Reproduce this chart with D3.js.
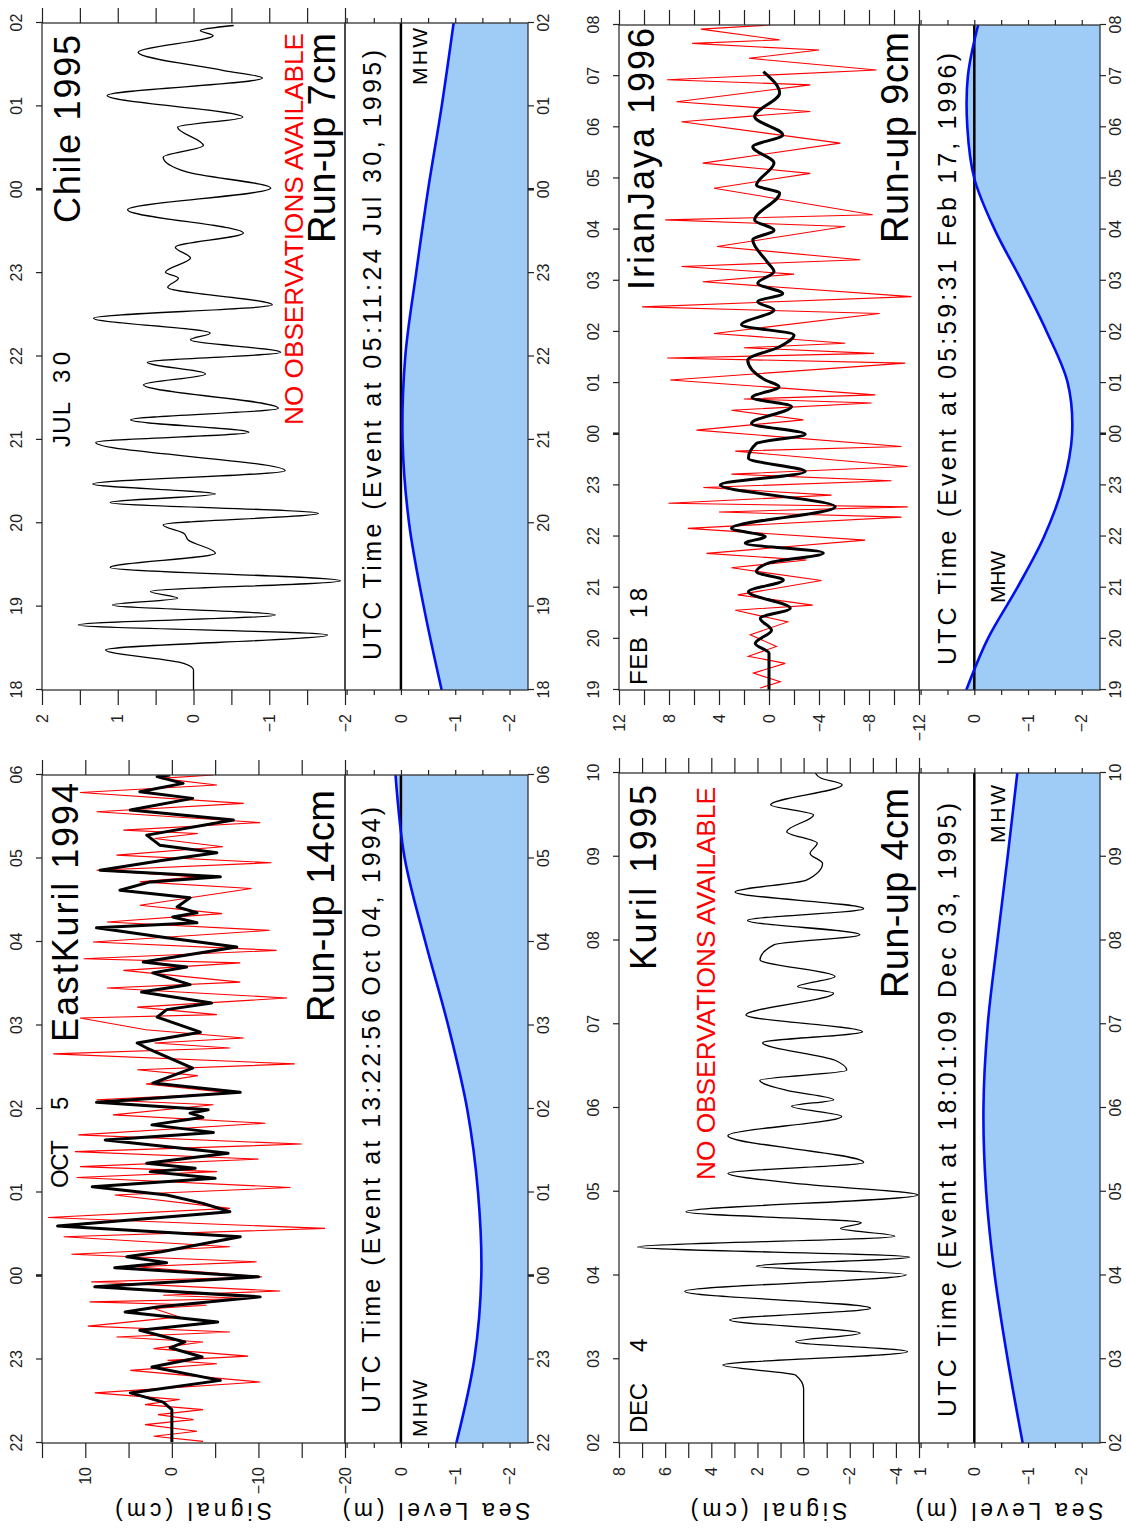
<!DOCTYPE html>
<html><head><meta charset="utf-8">
<script src="https://cdn.jsdelivr.net/npm/d3@7"></script>
<style>
body{margin:0;background:#fff}
svg{display:block}
text{font-family:"Liberation Sans",Arial,Helvetica,sans-serif}
</style>
</head><body>
<svg id="c" width="1126" height="1529"></svg>
<script>
// ---------------- DATA ----------------
// hour tick labels per panel
const eastKurilHours = ["22","23","00","01","02","03","04","05","06"];
const chileHours     = ["18","19","20","21","22","23","00","01","02"];
const kurilHours     = ["02","03","04","05","06","07","08","09","10"];
const irianHours     = ["19","20","21","22","23","00","01","02","03","04","05","06","07","08"];

// signal axis ticks and labelled values
const eastKurilTicks = [15,10,5,0,-5,-10,-15,-20];
const eastKurilLabels = [10,0,-10,-20];
const chileTicks = [2,1.5,1,0.5,0,-0.5,-1,-1.5,-2];
const chileLabels = [2,1,0,-1,-2];
const kurilTicks = [8,7,6,5,4,3,2,1,0,-1,-2,-3,-4,-5];
const kurilLabels = [8,6,4,2,0,-2,-4];
const irianTicks = [12,10,8,6,4,2,0,-2,-4,-6,-8,-10,-12];
const irianLabels = [12,8,4,0,-4,-8,-12];
const seaTicks = [1,0.5,0,-0.5,-1,-1.5,-2];
const seaLabelsDefault = [0,-1,-2];
const seaLabelsKuril = [1,0,-1,-2];

// Chile 1995 model signal (hours after 18:00, cm)
const chileTime = [0,0.24,0.32,0.48,0.66,0.78,0.90,1.02,1.10,1.18,1.31,1.47,1.64,1.80,1.88,1.98,2.12,2.25,2.35,2.47,2.63,2.97,3.09,3.24,3.38,3.66,3.79,3.93,4.05,4.20,4.28,4.46,4.62,4.83,4.94,5.01,5.18,5.31,5.48,5.76,6.02,6.21,6.39,6.53,6.75,6.87,7.13,7.34,7.43,7.65,7.85,7.91,7.97];
const chileSignal = [0,0,0.13,1.16,-1.77,1.52,-1.08,1.07,0.21,0.57,-1.94,1.10,-0.29,0.07,0.13,0.40,-1.65,1.10,-0.29,1.33,-1.21,1.29,-0.73,0.83,-1.12,0.66,-0.16,0.61,-1.15,0.04,-0.22,1.32,-1.04,0.34,0.20,0.37,0.04,0.24,-0.66,0.87,-1.02,0.08,0.40,-0.13,0.21,-0.65,1.14,-0.91,-0.40,0.73,-0.26,-0.09,-0.53];
const chileTide = [-0.75,-0.42,-0.15,-0.03,-0.08,-0.28,-0.50,-0.75,-0.97];

// EastKuril 1994 (hours after 22:00, cm)
const eastKurilTime = [0.01,0.40,0.49,0.60,0.75,0.91,1.03,1.14,1.21,1.35,1.45,1.57,1.63,1.75,1.87,1.99,2.10,2.16,2.23,2.29,2.47,2.60,2.77,2.87,2.97,3.07,3.17,3.25,3.29,3.35,3.47,3.63,3.72,3.81,3.90,3.95,3.99,4.08,4.20,4.31,4.49,4.73,4.79,4.92,5.10,5.19,5.27,5.40,5.49,5.63,5.70,5.76,5.94,6.05,6.17,6.23,6.30,6.35,6.42,6.53,6.62,6.72,6.78,6.86,6.98,7.07,7.16,7.28,7.46,7.58,7.72,7.80,7.90,7.98,8.00];
const eastKurilModel = [0,0,1.0,4.8,-5.6,2.3,-3.5,0.2,-1.5,3.7,-5.3,5.4,1.7,-10.2,8.9,-10.0,6.6,0.6,5.2,1.2,-7.9,13.2,-6.7,-3.6,0.6,9.2,-5.0,2.5,-2.7,2.9,-6.5,7.7,-4.8,2.3,-3.6,-2.1,-4.2,8.7,-7.9,2.2,-2.4,2.9,4.0,-3.3,1.7,0.6,-4.6,3.5,-2.1,2.2,-1.7,3.3,-7.5,0.6,8.7,-2.9,-0.1,-2.9,-0.6,-2.1,6.0,2.5,-5.6,8.3,1.0,-5.2,1.4,2.9,-7.1,4.8,-2.4,3.7,-1.3,1.7,0.2];
const eastKurilObsTime = [0.02,0.08,0.14,0.22,0.28,0.34,0.40,0.46,0.52,0.60,0.73,0.87,0.95,0.99,1.04,1.13,1.21,1.27,1.33,1.40,1.51,1.61,1.65,1.69,1.73,1.77,1.82,1.93,1.99,2.11,2.17,2.26,2.35,2.47,2.57,2.70,2.81,2.97,3.06,3.18,3.25,3.31,3.40,3.49,3.58,3.69,3.83,3.93,4.05,4.11,4.19,4.30,4.40,4.47,4.54,4.66,4.73,4.79,4.85,4.95,5.09,5.13,5.22,5.33,5.45,5.52,5.66,5.75,5.80,5.90,6.00,6.14,6.24,6.34,6.44,6.64,6.72,6.78,6.86,6.95,7.04,7.14,7.24,7.30,7.34,7.43,7.56,7.66,7.79,7.88,7.96,8.00];
const eastKurilObs = [-3.6,2.1,-2.9,3.1,-2.5,1.6,-3.6,3.1,-0.9,8.9,-10.2,4.8,-5.2,0.5,-8.8,2.1,-3.6,6.4,-6.7,9.7,-0.9,2.1,-4.0,9.5,-9.0,1.0,-12.5,9.3,-10.4,4.1,-9.8,11.6,-6.7,12.5,-17.7,14.3,-6.7,6.6,-13.7,11.0,-5.2,10.6,-10.0,11.2,-15.0,10.8,-10.8,6.8,-4.8,8.7,-7.1,3.0,-3.0,4.0,-14.2,13.7,-6.7,2.0,-8.3,3.0,10.6,-5.2,4.0,-13.3,7.5,-7.9,5.6,-7.9,10.2,-12.1,9.1,-11.3,7.5,-5.8,3.7,-9.2,3.7,-3.0,8.7,-11.5,6.4,-5.9,2.0,-3.0,5.6,-10.2,8.7,-8.3,10.6,-5.2,1.4,-4.8];
const eastKurilTide = [-1.02,-1.35,-1.48,-1.42,-1.22,-0.87,-0.45,-0.07,0.10];

// Kuril 1995 model signal (hours after 02:00, cm)
const kurilTime = [0,0.65,0.81,0.93,1.09,1.21,1.31,1.47,1.61,1.81,2.01,2.11,2.22,2.34,2.47,2.56,2.63,2.76,2.96,3.09,3.22,3.35,3.67,3.90,4.02,4.10,4.21,4.33,4.45,4.57,4.78,4.91,5.11,5.37,5.45,5.57,5.77,5.95,6.07,6.24,6.38,6.58,6.72,6.92,7.04,7.16,7.30,7.50,7.62,7.86,7.94,8.00];
const kurilSignal = [0,0,0.34,3.5,-4.5,0.34,-2.45,3.2,-2.9,5.15,-4.45,2.05,-4.6,7.2,-3.95,-1.6,-2.5,5.1,-4.95,0,3.28,-2.6,3.28,-1.65,0.52,-1.3,0.73,1.9,-1.87,-1.36,1.78,-2.55,2.5,-1.3,0.26,-1.36,1.89,1.27,-2.44,2.43,-2.6,2.97,-0.12,-0.82,-0.28,-0.59,0.73,-0.43,1.43,-1.67,-0.74,-0.5];
const kurilTide = [-0.90,-0.62,-0.38,-0.22,-0.17,-0.25,-0.43,-0.62,-0.80];

// IrianJaya 1996 (hours after 19:00, cm)
const irianTime = [0,0.72,0.91,1.17,1.40,1.60,1.92,2.15,2.31,2.48,2.68,2.87,3.00,3.16,3.58,4.01,4.27,4.53,4.82,5.00,5.21,5.54,5.72,5.93,6.06,6.45,6.71,6.94,7.14,7.43,7.59,7.75,7.95,8.18,8.37,8.80,8.99,9.19,9.71,9.87,10.30,10.62,10.85,11.21,11.67,12.09];
const irianModel = [0,0,1.1,-0.2,0.7,-1.7,1.65,-1.15,1.0,0.05,-4.35,1.9,0.3,3.0,-5.3,3.9,-2.9,1.65,1.0,-2.9,1.4,-1.8,1.35,-0.8,0.3,1.7,-0.85,-2.0,2.2,-0.4,0.9,-1.1,0.9,-0.4,0.15,1.3,-0.4,1.15,-0.85,1.0,-0.4,1.3,-1.1,1.15,-0.85,0.45];
const irianObsTime = [0.04,0.16,0.33,0.52,0.66,0.85,1.08,1.33,1.56,1.66,1.86,2.14,2.39,2.54,2.67,2.93,3.16,3.38,3.48,3.58,3.65,3.81,3.96,4.09,4.22,4.37,4.67,4.76,5.08,5.28,5.47,5.61,5.69,5.77,6.06,6.39,6.49,6.58,6.69,6.78,6.97,7.36,7.49,7.69,7.98,8.13,8.28,8.41,8.67,9.06,9.19,9.29,9.81,10.10,10.30,10.69,11.11,11.31,11.50,11.83,11.93,12.12,12.35,12.51,12.64,12.71,12.92,13.00];
const irianObs = [0.7,-0.9,1.25,-1.3,1.65,-0.6,1.5,-1.5,2.7,-3.5,2.5,-4.2,3.0,-3.0,5.0,-7.7,6.5,-10.6,4.0,-11.1,8.05,-5.0,5.25,-9.8,3.0,-11.1,2.7,-10.6,5.8,-2.75,3.0,-8.2,2.0,-8.5,7.9,-10.9,8.15,-8.4,2.0,-6.1,4.4,-8.85,10.15,-11.4,5.3,-2.0,7.0,-7.3,4.15,-6.1,8.3,-8.3,4.4,-3.3,5.3,-5.7,7.0,-3.3,7.4,-3.3,8.15,-8.6,1.6,-4.0,6.15,-0.85,5.45,-0.1];
const irianTide = [0.15,-0.25,-0.80,-1.30,-1.65,-1.82,-1.74,-1.35,-0.88,-0.38,0.00,0.13,0.12,-0.07];

// text content
const titles   = ["EastKuril 1994","Chile 1995","Kuril 1995","IrianJaya 1996"];
const months   = ["OCT","JUL","DEC","FEB"];
const days     = ["5","30","4","18"];
const runups   = ["Run-up 14cm","Run-up 7cm","Run-up 4cm","Run-up 9cm"];
const events   = ["UTC Time (Event at 13:22:56 Oct 04, 1994)","UTC Time (Event at 05:11:24 Jul 30, 1995)","UTC Time (Event at 18:01:09 Dec 03, 1995)","UTC Time (Event at 05:59:31 Feb 17, 1996)"];
const noObs    = "NO OBSERVATIONS AVAILABLE";
const signalTitle = "Signal (cm)";
const seaTitle = "Sea Level (m)";
const mhw = "MHW";

// ---------------- LAYOUT (landscape coords, rotated -90 at the end) ----------------
const seaDomain = [1.03, -2.34];
const layouts = [
  {lx0:86,  lx1:754,  sig0:42,  sig1:345, sea1:528,
   title:[487,78,259], month:[341,68,48], day:[419,68,13], run:[507,334,232], ev:[116,380,606], mhw:[92,427,57], noobs:null, axisTitles:true},
  {lx0:839, lx1:1506, sig0:42,  sig1:345, sea1:528,
   title:[1306,80,188], month:[1082,70,45], day:[1146,70,31], run:[1286,335,210], ev:[869,381,610], mhw:[1444,427,57], noobs:[1104,303,392], axisTitles:false},
  {lx0:86,  lx1:756,  sig0:619, sig1:919, sea1:1100,
   title:[559,656,185], month:[96,647,50], day:[177,647,14], run:[531,908,210], ev:[112,956,614], mhw:[686,1005,58], noobs:[349,715,393], axisTitles:true},
  {lx0:839, lx1:1504, sig0:619, sig1:919, sea1:1100,
   title:[1239,654,262], month:[844,647,48], day:[911,647,30], run:[1286,908,211], ev:[864,956,612], mhw:[926,1005,52], noobs:null, axisTitles:false}
];

const panels = [
  {hours:eastKurilHours, dom:[15,-20], ticks:eastKurilTicks, labels:eastKurilLabels, seaLabels:seaLabelsDefault,
   mT:eastKurilTime, mV:eastKurilModel, mW:3, smooth:false, oT:eastKurilObsTime, oV:eastKurilObs, tide:eastKurilTide},
  {hours:chileHours, dom:[2,-2], ticks:chileTicks, labels:chileLabels, seaLabels:seaLabelsDefault,
   mT:chileTime, mV:chileSignal, mW:1.3, smooth:true, oT:null, oV:null, tide:chileTide},
  {hours:kurilHours, dom:[8,-5], ticks:kurilTicks, labels:kurilLabels, seaLabels:seaLabelsKuril,
   mT:kurilTime, mV:kurilSignal, mW:1.3, smooth:true, oT:null, oV:null, tide:kurilTide},
  {hours:irianHours, dom:[12,-12], ticks:irianTicks, labels:irianLabels, seaLabels:seaLabelsDefault,
   mT:irianTime, mV:irianModel, mW:3, smooth:true, oT:irianObsTime, oV:irianObs, tide:irianTide}
];

// ---------------- DRAW ----------------
const svg = d3.select('#c');
const root = svg.append('g').attr('transform','translate(0,1529) rotate(-90)');
const fmt = d => d < 0 ? '\u2212' + Math.abs(d) : String(d);

function styleAxis(sel, fs) {
  sel.select('.domain').remove();
  sel.attr('font-family','"Liberation Sans",Arial,sans-serif').attr('font-size', fs || 16);
  sel.selectAll('.tick line').attr('stroke','#222').attr('stroke-width',1.2);
  sel.selectAll('.tick text').attr('fill','#222');
}

function txt(g, s, spec, size, opts) {
  opts = opts || {};
  g.append('text').attr('x',spec[0]).attr('y',spec[1]).attr('font-size',size)
    .attr('textLength',spec[2]).attr('lengthAdjust',opts.adjust || 'spacing')
    .attr('fill',opts.fill || '#000').text(s);
}

panels.forEach((p, i) => {
  const L = layouts[i];
  const g = root.append('g');
  const x = d3.scaleLinear().domain([0, p.hours.length - 1]).range([L.lx0, L.lx1]);
  const ys = d3.scaleLinear().domain(p.dom).range([L.sig0, L.sig1]);
  const yl = d3.scaleLinear().domain(seaDomain).range([L.sig1, L.sea1]);

  const defs = g.append('defs');
  defs.append('clipPath').attr('id','cs'+i).append('rect')
    .attr('x',L.lx0).attr('y',L.sig0).attr('width',L.lx1-L.lx0).attr('height',L.sig1-L.sig0);
  defs.append('clipPath').attr('id','cl'+i).append('rect')
    .attr('x',L.lx0).attr('y',L.sig1).attr('width',L.lx1-L.lx0).attr('height',L.sea1-L.sig1);

  // sea level fill
  const area = d3.area().x((d,k)=>x(k)).y0(yl(seaDomain[1])).y1(d=>yl(d)).curve(d3.curveCatmullRom);
  g.append('path').datum(p.tide).attr('d',area).attr('fill','#9fcbf7').attr('clip-path',`url(#cl${i})`);
  // MHW line
  g.append('line').attr('x1',L.lx0).attr('x2',L.lx1).attr('y1',yl(0)).attr('y2',yl(0))
    .attr('stroke','#000').attr('stroke-width',2.5);
  // tide line
  g.append('path').datum(p.tide)
    .attr('d', d3.line().x((d,k)=>x(k)).y(d=>yl(d)).curve(d3.curveCatmullRom))
    .attr('fill','none').attr('stroke','#0010f0').attr('stroke-width',2.6).attr('clip-path',`url(#cl${i})`);

  // observations (red)
  if (p.oT) {
    g.append('path').datum(p.oV)
      .attr('d', d3.line().x((d,k)=>x(p.oT[k])).y(d=>ys(d)))
      .attr('fill','none').attr('stroke','#ff0000').attr('stroke-width',1.1).attr('clip-path',`url(#cs${i})`);
  }
  // model (black)
  const mline = d3.line().x((d,k)=>x(p.mT[k])).y(d=>ys(d));
  if (p.smooth) mline.curve(d3.curveMonotoneX);
  g.append('path').datum(p.mV).attr('d', mline)
    .attr('fill','none').attr('stroke','#000').attr('stroke-width',p.mW).attr('stroke-linejoin','round')
    .attr('clip-path',`url(#cs${i})`);

  // frames
  g.append('rect').attr('x',L.lx0).attr('y',L.sig0).attr('width',L.lx1-L.lx0).attr('height',L.sig1-L.sig0)
    .attr('fill','none').attr('stroke','#333').attr('stroke-width',1.3);
  g.append('rect').attr('x',L.lx0).attr('y',L.sig1).attr('width',L.lx1-L.lx0).attr('height',L.sea1-L.sig1)
    .attr('fill','none').attr('stroke','#333').attr('stroke-width',1.3);

  // time axes
  const idx = d3.range(p.hours.length);
  const tTop = g.append('g').attr('transform',`translate(0,${L.sig0})`)
    .call(d3.axisTop(x).tickValues(idx).tickFormat(k=>p.hours[k]).tickSize(6).tickPadding(14));
  const tBot = g.append('g').attr('transform',`translate(0,${L.sea1})`)
    .call(d3.axisBottom(x).tickValues(idx).tickFormat(k=>p.hours[k]).tickSize(6).tickPadding(4));
  [tTop,tBot].forEach(a => {
    styleAxis(a, 16);
    a.selectAll('.tick').filter(k => p.hours[k] === '00').select('line').attr('stroke-width',2.6);
  });

  // signal axes
  const sL = g.append('g').attr('transform',`translate(${L.lx0},0)`)
    .call(d3.axisLeft(ys).tickValues(p.ticks).tickFormat(d => p.labels.includes(d) ? fmt(d) : '').tickSize(15).tickPadding(9));
  const sR = g.append('g').attr('transform',`translate(${L.lx1},0)`)
    .call(d3.axisRight(ys).tickValues(p.ticks).tickFormat('').tickSize(15));
  styleAxis(sL); styleAxis(sR);

  // sea level axes
  const lL = g.append('g').attr('transform',`translate(${L.lx0},0)`)
    .call(d3.axisLeft(yl).tickValues(seaTicks).tickFormat(d => p.seaLabels.includes(d) ? fmt(d) : '').tickSize(5).tickPadding(19));
  const lR = g.append('g').attr('transform',`translate(${L.lx1},0)`)
    .call(d3.axisRight(yl).tickValues(seaTicks).tickFormat('').tickSize(5));
  styleAxis(lL); styleAxis(lR);

  // texts
  txt(g, titles[i], L.title, 36);
  txt(g, months[i], L.month, 24);
  txt(g, days[i], L.day, 24);
  txt(g, runups[i], L.run, 38);
  txt(g, events[i], L.ev, 25);
  txt(g, mhw, L.mhw, 21);
  if (L.noobs) txt(g, noObs, L.noobs, 26, {adjust:'spacingAndGlyphs', fill:'#ff0000'});

  if (L.axisTitles) {
    const cs = (L.sig0 + L.sig1) / 2, cl = (L.sig1 + L.sea1) / 2;
    g.append('text').attr('transform',`translate(26,${cs}) rotate(-90)`).attr('text-anchor','middle')
      .attr('font-size',23).attr('textLength',157).attr('lengthAdjust','spacing').text(signalTitle);
    g.append('text').attr('transform',`translate(26,${cl}) rotate(-90)`).attr('text-anchor','middle')
      .attr('font-size',23).attr('textLength',188).attr('lengthAdjust','spacing').text(seaTitle);
  }
});
</script>
</body></html>
